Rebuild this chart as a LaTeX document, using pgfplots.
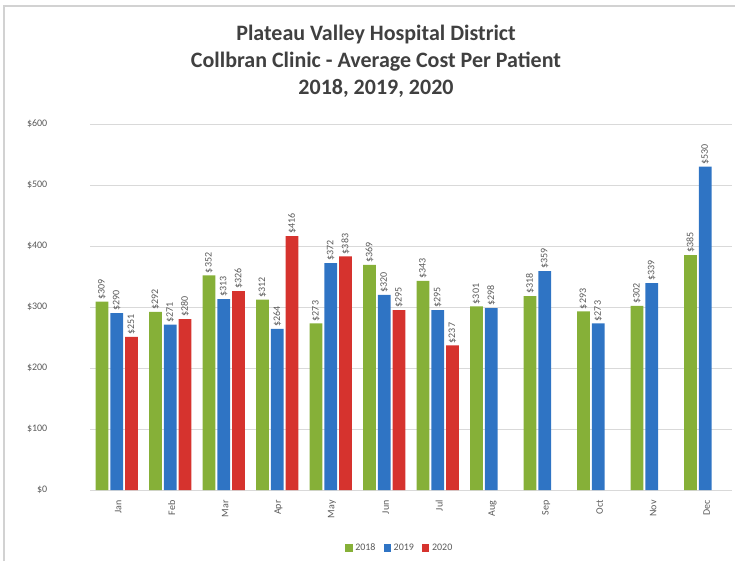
\documentclass[border=0pt]{standalone}
\usepackage{pgfplots}
\pgfplotsset{compat=1.18}
\usepackage{fontspec}
\setmainfont{Carlito}
\definecolor{gA}{HTML}{86B038}
\definecolor{bA}{HTML}{2F74C4}
\definecolor{rA}{HTML}{D6332E}
\definecolor{titlegray}{HTML}{404040}
\definecolor{lblgray}{HTML}{595959}
\begin{document}
\begin{tikzpicture}
\path[use as bounding box] (0,0) rectangle (551.25pt,420.75pt);
\draw[gray!35, line width=0.8pt] (3pt,0pt) -- (3pt,416.25pt) -- (551.25pt,416.25pt);
\node[font=\bfseries\fontsize{16.5}{20.25}\selectfont, text=titlegray, align=center] at (282pt,374.5pt)
  {Plateau Valley Hospital District\\Collbran Clinic - Average Cost Per Patient\\2018, 2019, 2020};
\begin{axis}[
  at={(67.5pt,53.25pt)}, anchor=south west,
  scale only axis, width=481.5pt, height=274.5pt,
  xmin=-0.5, xmax=11.5, ymin=0, ymax=600,
  enlarge x limits=false,
  ybar=1.5pt, bar width=9.6pt,
  axis line style={draw=none}, tick style={draw=none},
  ymajorgrids, grid style={gray!30, line width=0.6pt},
  ytick={0,100,200,300,400,500,600},
  yticklabel={\$\pgfmathprintnumber{\tick}},
  /pgf/number format/assume math mode=true,
  /pgf/number format/1000 sep={},
  yticklabel style={font=\fontsize{7.5}{8}\selectfont, text=lblgray, anchor=east, xshift=-28.5pt},
  xtick={0,...,11},
  xticklabels={Jan,Feb,Mar,Apr,May,Jun,Jul,Aug,Sep,Oct,Nov,Dec},
  xticklabel style={font=\fontsize{7.5}{8}\selectfont, text=lblgray, rotate=90, anchor=east, yshift=-1pt},
  nodes near coords={\$\pgfmathprintnumber{\pgfplotspointmeta}},
  every node near coord/.append style={font=\fontsize{7.5}{8}\selectfont, text=lblgray, rotate=90, anchor=west, inner sep=1.5pt},
  legend style={at={(axis description cs:0.483,-0.158)}, anchor=center, draw=none, fill=none,
    legend columns=3, font=\fontsize{7.5}{8}\selectfont, text=lblgray,
    /tikz/every even column/.append style={column sep=4pt}},
  legend image code/.code={\fill[#1] (0pt,-2.8pt) rectangle (5.6pt,2.8pt);},
]
\addplot[draw=none, fill=gA]
  coordinates {(0,309) (1,292) (2,352) (3,312) (4,273) (5,369) (6,343) (7,301) (8,318) (9,293) (10,302) (11,385)};
\addplot[draw=none, fill=bA]
  coordinates {(0,290) (1,271) (2,313) (3,264) (4,372) (5,320) (6,295) (7,298) (8,359) (9,273) (10,339) (11,530)};
\addplot[draw=none, fill=rA]
  coordinates {(0,251) (1,280) (2,326) (3,416) (4,383) (5,295) (6,237)};
\legend{2018,2019,2020}
\end{axis}
\end{tikzpicture}
\end{document}
